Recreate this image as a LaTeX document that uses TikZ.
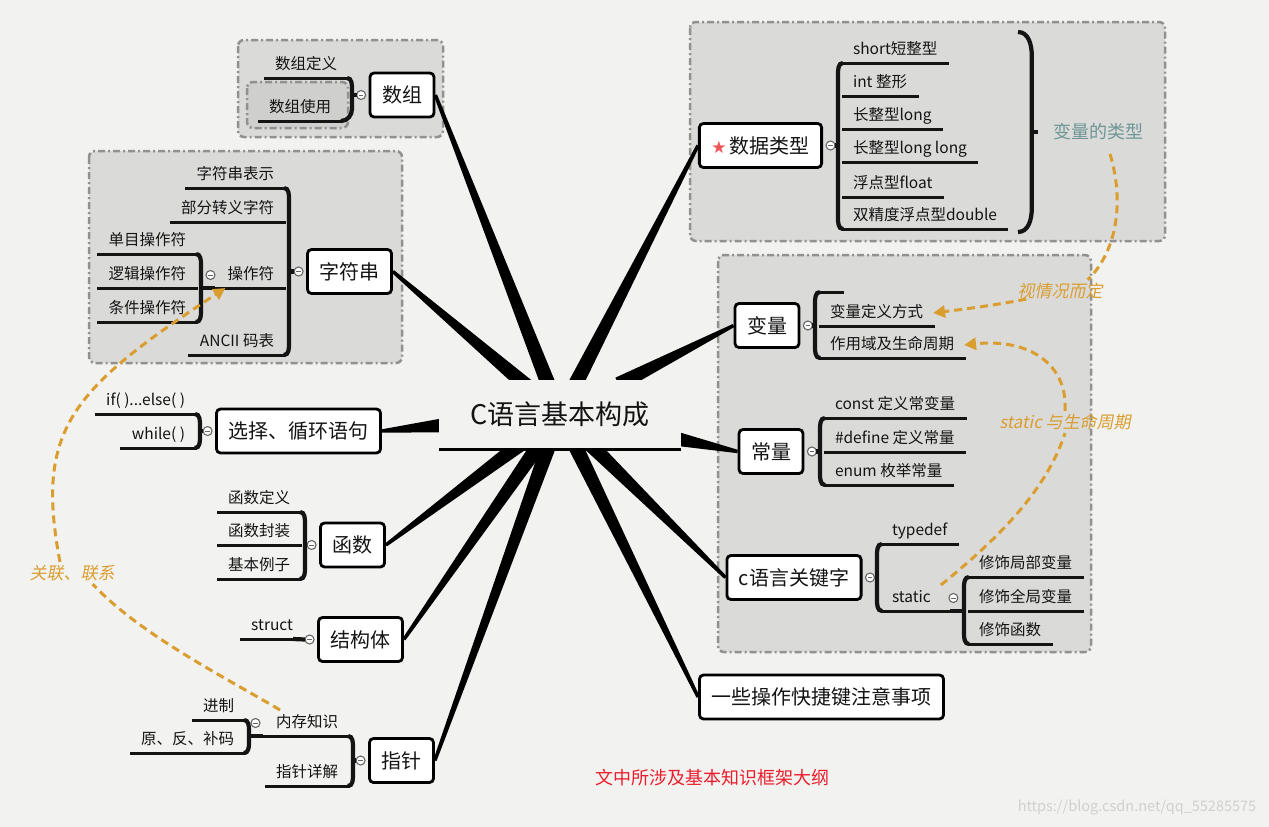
\documentclass[tikz,border=0pt]{standalone}
\usepackage{fontspec}
\setmainfont{Noto Sans CJK SC}
\newfontfamily\slantcjk[FakeSlant=0.2]{Noto Sans CJK SC}
\newfontfamily\symfont{DejaVu Sans}
\usetikzlibrary{positioning,calc,arrows.meta}
\definecolor{pagebg}{RGB}{242,242,240}
\definecolor{bndfill}{RGB}{218,218,217}
\definecolor{bndinner}{RGB}{207,207,206}
\definecolor{bnddraw}{RGB}{145,145,145}
\definecolor{relline}{RGB}{218,158,48}
\definecolor{sumtext}{RGB}{110,150,150}
\definecolor{titlered}{RGB}{235,30,45}
\definecolor{starred}{RGB}{238,85,85}
\definecolor{inktext}{RGB}{20,20,20}
\definecolor{wmgray}{RGB}{208,208,208}
\pgfdeclarelayer{back}
\pgfdeclarelayer{spokes}
\pgfsetlayers{back,spokes,main}
\tikzset{
  topic/.style={draw=black,line width=2.8pt,fill=white,rounded corners=4pt,inner xsep=12pt,inner ysep=0pt,minimum height=44pt,text=inktext,font=\fontsize{20}{24}\selectfont},
  central/.style={fill=pagebg,minimum width=242pt,minimum height=69pt,inner sep=0pt,text=inktext,font=\fontsize{27}{32}\selectfont},
  sub/.style={inner xsep=10pt,inner ysep=5.5pt,outer sep=0pt,text height=12pt,text depth=3pt,text=inktext,font=\fontsize{15.5}{18}\selectfont,
    append after command={(\tikzlastnode.south west) edge[subline] (\tikzlastnode.south east)}},
  subline/.style={draw=inktext,line width=3pt,line cap=rect},
  brace/.style={draw=inktext,line width=4.2pt},
  knob/.style={circle,draw=black!60,line width=1.1pt,fill=white,inner sep=0pt,outer sep=0pt,minimum size=9pt,
    path picture={\draw[black!60,line width=.9pt] ([xshift=-2.2pt]path picture bounding box.center) -- ([xshift=2.2pt]path picture bounding box.center);}},
  bound/.style={fill=bndfill,draw=bnddraw,line width=2.5pt,dash pattern=on 7pt off 3pt on 2pt off 3pt,rounded corners=6pt},
  rel/.style={draw=relline,line width=3pt,dash pattern=on 8pt off 5pt},
  reltip/.style={-{Triangle[length=12pt,width=12pt]}},
  rellabel/.style={inner sep=3pt,text=relline,font=\slantcjk\fontsize{17}{20}\selectfont},
  sumlabel/.style={inner sep=0pt,text=sumtext,font=\fontsize{18}{21}\selectfont},
  redtitle/.style={inner sep=0pt,text=titlered,font=\fontsize{18}{21}\selectfont},
  wmtext/.style={inner sep=0pt,text=wmgray,font=\fontsize{14.5}{17}\selectfont},
}
\newcommand\spoke[1]{%
  \path (cen) -- (#1) coordinate[pos=0] (sa) coordinate[pos=1] (sb);
  \coordinate (s0) at ($(sa)!-10pt!(sb)$);
  \fill[black] ($(s0)!7.5pt!90:(sb)$) -- ($(sb)!1.7pt!-90:(s0)$) -- ($(sb)!1.7pt!90:(s0)$) -- ($(s0)!7.5pt!-90:(sb)$) -- cycle;
}
\newcommand\bracel[3]{%
  \coordinate (bx) at ($(#1.south east |- #3)+(5,0)$);
  \draw[brace] (#1.south east) to[out=0,in=90] ($(#1.south east -| bx)+(0,12)$) -- ($(#2.south east -| bx)+(0,-12)$) to[out=-90,in=0] (#2.south east);
  \draw[brace] (bx) -- (#3.west);
}
\newcommand\bracer[3]{%
  \coordinate (bx) at ($(#1.south west |- #3)+(-5,0)$);
  \draw[brace] (#1.south west) to[out=180,in=90] ($(#1.south west -| bx)+(0,12)$) -- ($(#2.south west -| bx)+(0,-12)$) to[out=-90,in=180] (#2.south west);
  \draw[brace] (bx) -- (#3.east);
}
\newcommand\bracelin[3]{%
  \coordinate (bx) at ($(#1.south east |- #3.south)+(5,0)$);
  \draw[brace] (#1.south east) to[out=0,in=90] ($(#1.south east -| bx)+(0,10)$) -- ($(#2.south east -| bx)+(0,-10)$) to[out=-90,in=0] (#2.south east);
  \draw[subline] (bx) -- (#3.south west);
  \draw[brace] (bx) -- ++(14,0);
}
\newcommand\bracerin[3]{%
  \coordinate (bx) at ($(#1.south west |- #3.south)+(-5,0)$);
  \draw[brace] (#1.south west) to[out=180,in=90] ($(#1.south west -| bx)+(0,10)$) -- ($(#2.south west -| bx)+(0,-10)$) to[out=-90,in=180] (#2.south west);
  \draw[subline] (bx) -- (#3.south east);
  \draw[brace] (bx) -- ++(-14,0);
}
\begin{document}
\begin{tikzpicture}[x=1pt,y=-1pt]
\path[use as bounding box] (0,0) rectangle (1269,827);
\begin{pgfonlayer}{back}
\fill[pagebg] (0,0) rectangle (1269,827);
\path[bound] (238,40) rectangle (443,137);
\path[bound,fill=bndinner] (247,82) rectangle (348,128);
\path[bound] (89,151) rectangle (402,363);
\path[bound] (690,22) rectangle (1165,241);
\path[bound] (718,255) rectangle (1091,652);
\end{pgfonlayer}
% centre
\node[central] (cen) at (560,414.5) {C语言基本构成};
\draw[line width=3pt] (cen.south west) -- (cen.south east);
% left side
\node[topic] (shuzu) at (402,95) {数组};
\node[knob,left=3pt of shuzu] (kshuzu) {};
\node[sub,anchor=south east] (shuzu1) at (347,78) {数组定义};
\node[sub,anchor=south east] (shuzu2) at (341,121) {数组使用};
\bracel{shuzu1}{shuzu2}{kshuzu}
\node[topic] (zfc) at (349.5,271.5) {字符串};
\node[knob,left=3pt of zfc] (kzfc) {};
\node[sub,anchor=south east] (zfc1) at (284,188) {字符串表示};
\node[sub,anchor=south east] (zfc2) at (284,222) {部分转义字符};
\node[sub,anchor=south east] (zfc3) at (284,288) {操作符};
\node[sub,anchor=south east] (zfc4) at (284,355) {ANCII 码表};
\bracel{zfc1}{zfc4}{kzfc}
\node[knob,left=2.5pt of zfc3] (kzfc3) {};
\node[sub,anchor=south east] (zfc3a) at (196,254) {单目操作符};
\node[sub,anchor=south east] (zfc3b) at (196,288) {逻辑操作符};
\node[sub,anchor=south east] (zfc3c) at (196,322) {条件操作符};
\bracelin{zfc3a}{zfc3c}{zfc3}
\node[topic] (xz) at (298.5,431) {选择、循环语句};
\node[knob,left=3pt of xz] (kxz) {};
\node[sub,anchor=south east] (xz1) at (195,414) {if( )...else( )};
\node[sub,anchor=south east] (xz2) at (195,448) {while( )};
\bracel{xz1}{xz2}{kxz}
\node[topic] (hs) at (352.5,545) {函数};
\node[knob,left=3pt of hs] (khs) {};
\node[sub,anchor=south east] (hs1) at (300,512) {函数定义};
\node[sub,anchor=south east] (hs2) at (300,545) {函数封装};
\node[sub,anchor=south east] (hs3) at (300,579) {基本例子};
\bracel{hs1}{hs3}{khs}
\node[topic] (jgt) at (360.5,639.5) {结构体};
\node[sub,anchor=south east] (jgt1) at (303,639) {struct};
\node[knob,left=3pt of jgt] (kjgt) {};
\draw[brace] ([xshift=-10pt]jgt1.south east) -- (kjgt.west);
\node[topic] (zz) at (401.5,760.5) {指针};
\node[knob,left=3pt of zz] (kzz) {};
\node[sub,anchor=south east] (zz1) at (348,736) {内存知识};
\node[sub,anchor=south east] (zz2) at (348,786) {指针详解};
\bracel{zz1}{zz2}{kzz}
\node[knob,left=6pt of zz1] (kzz1) {};
\node[sub,anchor=south east] (zz1a) at (244,720) {进制};
\node[sub,anchor=south east] (zz1b) at (244,753) {原、反、补码};
\bracelin{zz1a}{zz1b}{zz1}
% right side
\node[topic] (sjlx) at (760.5,145.5) {{\symfont\fontsize{17}{17}\selectfont\textcolor{starred}{★}}\hspace{3pt}数据类型};
\node[knob,right=3pt of sjlx] (ksjlx) {};
\node[sub,anchor=south west] (sjlx1) at (843,63) {short短整型};
\node[sub,anchor=south west] (sjlx2) at (843,96) {int 整形};
\node[sub,anchor=south west] (sjlx3) at (843,129) {长整型long};
\node[sub,anchor=south west] (sjlx4) at (843,162) {长整型long long};
\node[sub,anchor=south west] (sjlx5) at (843,197) {浮点型float};
\node[sub,anchor=south west] (sjlx6) at (843,229) {双精度浮点型double};
\bracer{sjlx1}{sjlx6}{ksjlx}
\node[sumlabel] (sumlbl) at (1098,132) {变量的类型};
\coordinate (sumtop) at (1018,32);
\coordinate (sumbot) at (1018,232);
\coordinate (sumx) at ($(sumlbl.west)+(-21,0)$);
\draw[brace] (sumtop) to[out=0,in=90] ($(sumtop -| sumx)+(0,24)$) -- ($(sumbot -| sumx)+(0,-24)$) to[out=-90,in=0] (sumbot);
\draw[brace] (sumx) -- ++(6,0);
\node[topic] (bl) at (767,325.5) {变量};
\node[knob,right=3pt of bl] (kbl) {};
\node[sub,anchor=south west,minimum width=22pt] (bl0) at (820,292) {};
\node[sub,anchor=south west] (bl1) at (820,326) {变量定义方式};
\node[sub,anchor=south west] (bl2) at (820,358) {作用域及生命周期};
\bracer{bl0}{bl2}{kbl}
\node[topic] (cl) at (771,451.5) {常量};
\node[knob,right=3pt of cl] (kcl) {};
\node[sub,anchor=south west] (cl1) at (825,418) {const 定义常变量};
\node[sub,anchor=south west] (cl2) at (825,452) {\#define 定义常量};
\node[sub,anchor=south west] (cl3) at (825,485) {enum 枚举常量};
\bracer{cl1}{cl3}{kcl}
\node[topic] (gjz) at (794,577.5) {c语言关键字};
\node[knob,right=3pt of gjz] (kgjz) {};
\node[sub,anchor=south west] (gjz1) at (882,544) {typedef};
\node[sub,anchor=south west] (gjz2) at (882,611) {static};
\bracer{gjz1}{gjz2}{kgjz}
\node[knob,right=8pt of gjz2] (kgjz2) {};
\node[sub,anchor=south west] (gjz2a) at (969,577) {修饰局部变量};
\node[sub,anchor=south west] (gjz2b) at (969,611) {修饰全局变量};
\node[sub,anchor=south west] (gjz2c) at (969,644) {修饰函数};
\bracerin{gjz2a}{gjz2c}{gjz2}
\node[topic] (kjj) at (821.5,697) {一些操作快捷键注意事项};
% spokes
\begin{pgfonlayer}{spokes}
\spoke{shuzu.east}
\spoke{zfc.east}
\spoke{xz.east}
\spoke{hs.east}
\spoke{jgt.east}
\spoke{zz.east}
\spoke{sjlx.west}
\spoke{bl.west}
\spoke{cl.west}
\spoke{gjz.west}
\spoke{kjj.west}
\end{pgfonlayer}
% relationships
\node[rellabel] (lbl1) at (1060,291) {视情况而定};
\node[rellabel] (lbl2) at (1065,422) {static 与生命周期};
\node[rellabel] (lbl3) at (72,573) {关联、联系};
\draw[rel] ([xshift=12pt,yshift=-22pt]sumlbl.center) .. controls (1124,200) and (1118,250) .. ([xshift=-18pt]lbl1.north east);
\draw[rel,reltip] ([xshift=12pt,yshift=3pt]lbl1.south west) .. controls (990,306) and (965,309) .. (bl1.east);
\draw[rel] (gjz2.north east) .. controls (990,545) and (1045,495) .. (lbl2.south);
\draw[rel,reltip] (lbl2.north) .. controls (1068,365) and (1030,338) .. (bl2.east);
\draw[rel] ([xshift=14pt]zz1.north west) .. controls (230,680) and (140,635) .. ([xshift=-25pt]lbl3.south east);
\draw[rel,reltip] ([xshift=-12pt]lbl3.north) .. controls (35,430) and (70,390) .. ([xshift=8pt]zfc3.south west);
\node[redtitle] (ttl) at (712,778) {文中所涉及基本知识框架大纲};
\node[wmtext] (wm) at (1137,808) {https://blog.csdn.net/qq\_55285575};
\end{tikzpicture}
\end{document}
